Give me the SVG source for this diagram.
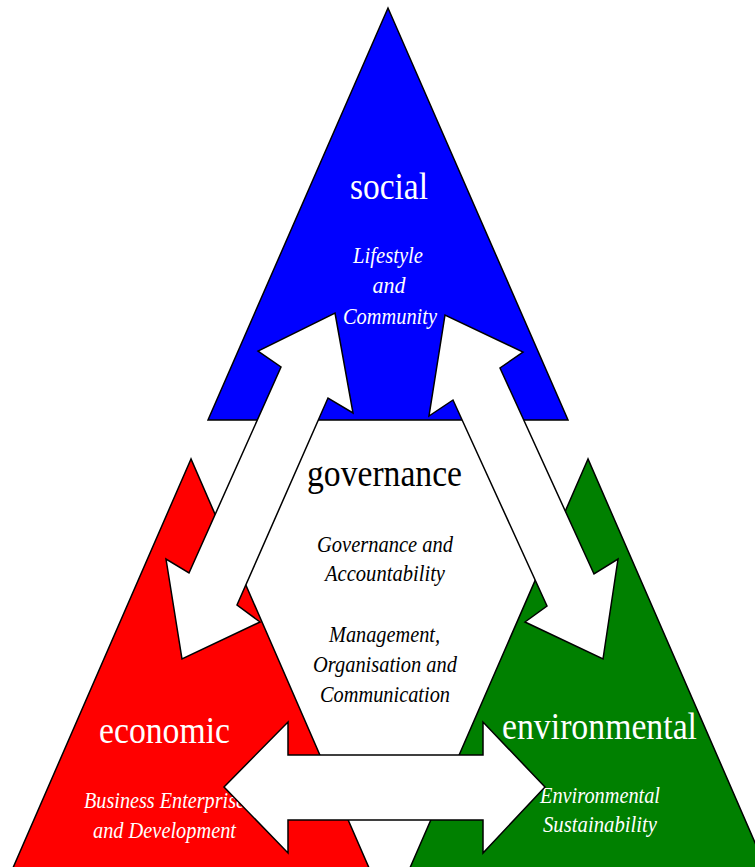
<svg xmlns="http://www.w3.org/2000/svg" width="755" height="867" viewBox="0 0 755 867">
<style>
.tri{stroke:#000;stroke-width:1.5;stroke-linejoin:miter}
.arr{fill:#fff;stroke:#000;stroke-width:1.5;stroke-linejoin:miter}
.big{font-family:"Liberation Serif","Times New Roman",serif;font-size:38px;text-anchor:middle}
.sub{font-family:"Liberation Serif","Times New Roman",serif;font-size:22.5px;font-style:italic;text-anchor:middle}
.w{fill:#fff}
.k{fill:#000}
</style>
<rect width="755" height="867" fill="#fff"/>
<g id="node-social">
<polygon class="tri" fill="#0000FF" points="388,8 208,420 568,420"/>
<text class="big w" x="389" y="199" textLength="78" lengthAdjust="spacingAndGlyphs">social</text>
<text class="sub w" x="388" y="263" textLength="70" lengthAdjust="spacingAndGlyphs">Lifestyle</text>
<text class="sub w" x="389" y="293" textLength="33" lengthAdjust="spacingAndGlyphs">and</text>
<text class="sub w" x="390" y="324" textLength="94" lengthAdjust="spacingAndGlyphs">Community</text>
</g>
<g id="node-economic">
<polygon class="tri" fill="#FF0000" points="191,459 -1,900 383,900"/>
<text class="big w" x="164.5" y="743" textLength="131" lengthAdjust="spacingAndGlyphs">economic</text>
<text class="sub w" x="164.5" y="808" textLength="161" lengthAdjust="spacingAndGlyphs">Business Enterprise</text>
<text class="sub w" x="164.5" y="838" textLength="143" lengthAdjust="spacingAndGlyphs">and Development</text>
</g>
<g id="node-environmental">
<polygon class="tri" fill="#008000" points="588,459 396,900 780,900"/>
<text class="big w" x="599.5" y="739" textLength="195" lengthAdjust="spacingAndGlyphs">environmental</text>
<text class="sub w" x="600" y="803" textLength="120" lengthAdjust="spacingAndGlyphs">Environmental</text>
<text class="sub w" x="600" y="832" textLength="114" lengthAdjust="spacingAndGlyphs">Sustainability</text>
</g>
<g id="connectors">
<polygon class="arr" points="335,313 353,413 328,398 237,605 260,622 182,659 166,559 189,573 281,367 258,351"/>
<polygon class="arr" points="445,315 429,416 453,400 547,606 525,622 603,659 618,559 594,574 500,368 523,352"/>
<polygon class="arr" points="224,787 288,722 288,755 483,755 483,722 545,787 483,853 483,820 288,820 288,853"/>
</g>
<g id="node-governance">
<text class="big k" x="384.5" y="486" textLength="155" lengthAdjust="spacingAndGlyphs">governance</text>
<text class="sub k" x="385" y="552" textLength="136" lengthAdjust="spacingAndGlyphs">Governance and</text>
<text class="sub k" x="385" y="581" textLength="120" lengthAdjust="spacingAndGlyphs">Accountability</text>
<text class="sub k" x="384.5" y="642" textLength="111" lengthAdjust="spacingAndGlyphs">Management,</text>
<text class="sub k" x="385" y="672" textLength="144" lengthAdjust="spacingAndGlyphs">Organisation and</text>
<text class="sub k" x="385" y="702" textLength="130" lengthAdjust="spacingAndGlyphs">Communication</text>
</g>
</svg>
